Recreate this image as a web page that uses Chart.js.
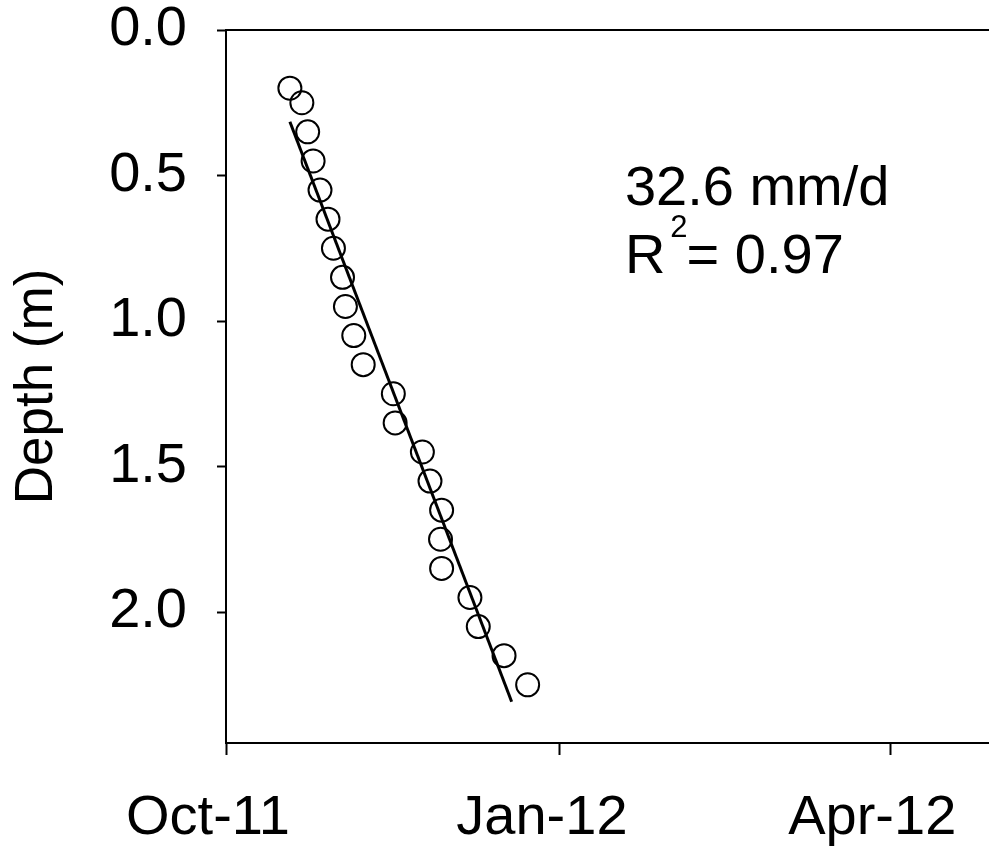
<!DOCTYPE html>
<html>
<head>
<meta charset="utf-8">
<script src="https://cdn.jsdelivr.net/npm/chart.js@4.4.1/dist/chart.umd.min.js"></script>
<style>
  html, body { margin: 0; padding: 0; background: #fff; overflow: hidden; }
  #wrap { width: 989px; height: 846px; position: relative; }
</style>
</head>
<body>
<div id="wrap"><canvas id="c" width="989" height="846"></canvas></div>
<script>
// ---- Data (days since 1 Oct 2011, depth in metres) ----
const obsDays   = [17.6, 20.9, 22.5, 24.0, 25.9, 28.1, 29.6, 32.1, 32.9, 35.2, 37.8,
                   46.1, 46.6, 54.1, 56.2, 59.4, 59.1, 59.4, 67.2, 69.5, 76.6, 83.1];
const obsDepths = [0.20, 0.25, 0.35, 0.45, 0.55, 0.65, 0.75, 0.85, 0.95, 1.05, 1.15,
                   1.25, 1.35, 1.45, 1.55, 1.65, 1.75, 1.85, 1.95, 2.05, 2.15, 2.25];
const fitDays   = [17.6, 78.7];
const fitDepths = [0.315, 2.308];
const xTickDays   = [0, 92, 183];
const xTickLabels = ['Oct-11', 'Jan-12', 'Apr-12'];
const yTickValues = [0.0, 0.5, 1.0, 1.5, 2.0];
const rateText  = '32.6 mm/d';
const r2Value   = '= 0.97';

const FONT = "'Liberation Sans', Arial, Helvetica, sans-serif";

function noPad(s) {
  s.paddingTop = 0; s.paddingBottom = 0; s.paddingLeft = 0; s.paddingRight = 0;
}

const annotationPlugin = {
  id: 'fitText',
  afterDatasetsDraw(chart) {
    const ctx = chart.ctx;
    const xs = chart.scales.x, ys = chart.scales.y;
    const x0 = xs.getPixelForValue(109.9);
    const b1 = ys.getPixelForValue(0.601);
    const b2 = ys.getPixelForValue(0.835);
    ctx.save();
    ctx.fillStyle = '#000';
    ctx.textBaseline = 'alphabetic';
    ctx.textAlign = 'left';
    ctx.font = '56px ' + FONT;
    ctx.fillText(rateText, x0, b1);
    ctx.fillText('R', x0, b2);
    const rw = ctx.measureText('R').width;
    ctx.font = '31px ' + FONT;
    ctx.fillText('2', x0 + rw + 5, b2 - 36);
    const sw = ctx.measureText('2').width;
    ctx.font = '56px ' + FONT;
    ctx.fillText(r2Value, x0 + rw + 4 + sw, b2);
    ctx.restore();
  }
};

new Chart(document.getElementById('c'), {
  type: 'scatter',
  data: {
    datasets: [
      {
        type: 'line',
        data: fitDays.map((d, i) => ({ x: d, y: fitDepths[i] })),
        borderColor: '#000',
        borderWidth: 3,
        pointRadius: 0,
        fill: false,
        order: 1
      },
      {
        data: obsDays.map((d, i) => ({ x: d, y: obsDepths[i] })),
        pointRadius: 11.5,
        pointBorderWidth: 2,
        pointBorderColor: '#000',
        pointBackgroundColor: 'rgba(0,0,0,0)',
        order: 2
      }
    ]
  },
  options: {
    responsive: false,
    animation: false,
    layout: { autoPadding: false, padding: { left: 0, right: 0, top: 0, bottom: 0 } },
    plugins: { legend: { display: false }, tooltip: { enabled: false }, title: { display: false } },
    scales: {
      x: {
        type: 'linear',
        position: 'bottom',
        min: 0,
        max: 210.2,
        afterBuildTicks: s => { s.ticks = xTickDays.map(v => ({ value: v })); },
        afterFit: s => { s.height = 103; noPad(s); },
        ticks: {
          color: '#000',
          font: { family: FONT, size: 56 },
          padding: 30,
          labelOffset: -18,
          maxRotation: 0,
          autoSkip: false,
          callback: (v) => { const i = xTickDays.indexOf(v); return i >= 0 ? xTickLabels[i] : ''; }
        },
        grid: { display: true, drawOnChartArea: false, drawTicks: true, tickLength: 12, tickWidth: 2, tickColor: '#000' },
        border: { display: true, color: '#000', width: 2 }
      },
      xTop: {
        type: 'linear',
        position: 'top',
        min: 0,
        max: 210.2,
        afterFit: s => { s.height = 30; noPad(s); },
        ticks: { display: false },
        grid: { display: true, drawOnChartArea: false, drawTicks: false },
        border: { display: true, color: '#000', width: 2 }
      },
      y: {
        type: 'linear',
        position: 'left',
        reverse: true,
        min: 0,
        max: 2.45,
        afterBuildTicks: s => { s.ticks = yTickValues.map(v => ({ value: v })); },
        afterFit: s => { s.width = 226; noPad(s); },
        ticks: {
          color: '#000',
          font: { family: FONT, size: 56 },
          padding: 30,
          callback: v => Number(v).toFixed(1)
        },
        title: {
          display: true,
          text: 'Depth (m)',
          color: '#000',
          font: { family: FONT, size: 53 },
          padding: { top: 6, bottom: 0 }
        },
        grid: { display: true, drawOnChartArea: false, drawTicks: true, tickLength: 9, tickWidth: 2, tickColor: '#000' },
        border: { display: true, color: '#000', width: 2 }
      }
    }
  },
  plugins: [annotationPlugin]
});
</script>
</body>
</html>
